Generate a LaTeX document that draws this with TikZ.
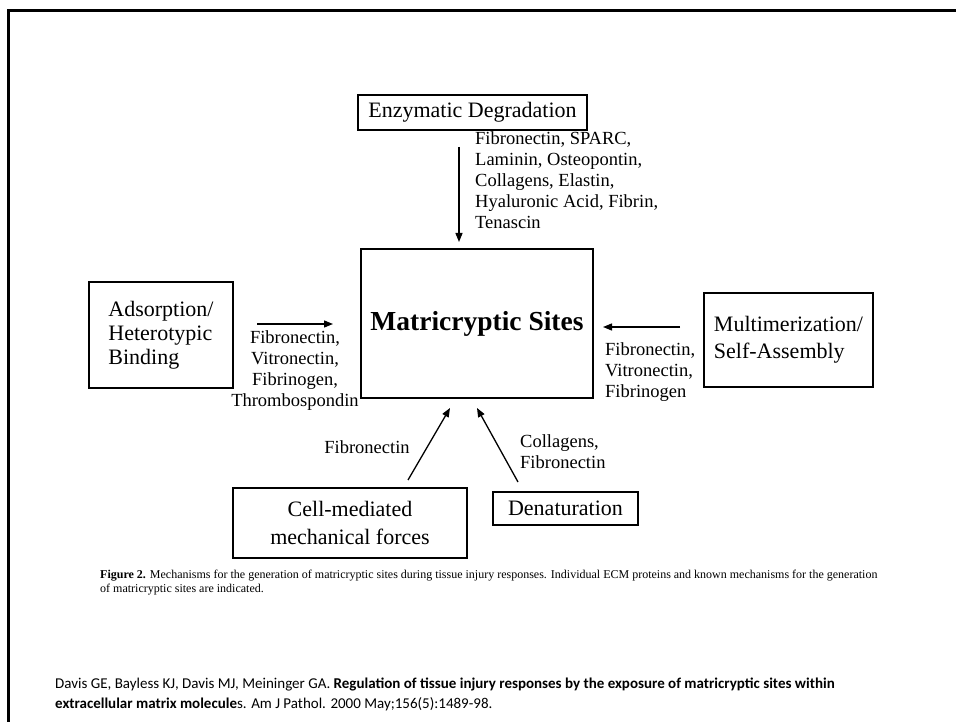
\documentclass[tikz,border=0pt]{standalone}
\usepackage{fontspec}
\setmainfont{Liberation Serif}
\newfontfamily\calibrifont{Carlito}
\usetikzlibrary{arrows.meta}
\begin{document}
\begin{tikzpicture}[x=1pt,y=-1pt,
  boxst/.style={draw,line width=1.4pt,inner sep=0pt,font=\fontsize{22}{25}\selectfont},
  arr/.style={line width=1.3pt,-{Triangle[length=9pt,width=7pt]}},
  lbl/.style={inner sep=0pt,font=\fontsize{18.5}{21}\selectfont}]
\useasboundingbox (0,0) rectangle (956,722);
% slide frame
\draw[line width=3pt] (8.5,730) -- (8.5,10.5) -- (960,10.5);
% boxes
\node[boxst,minimum width=229pt,minimum height=35pt] (enz) at (472.5,112.5) {Enzymatic Degradation};
\node[boxst,minimum width=232pt,minimum height=149pt,font=\fontsize{27.5}{30}\selectfont\bfseries] (main) at (477,323.5) {Matricryptic Sites};
\node[boxst,minimum width=144pt,minimum height=106pt,align=left,font=\fontsize{22}{24}\selectfont] (ads) at (161,335) {Adsorption/\\Heterotypic\\Binding};
\node[boxst,minimum width=169pt,minimum height=94pt,align=left,font=\fontsize{22}{27}\selectfont] (mult) at (788.5,340) {Multimerization/\\Self-Assembly};
\node[boxst,minimum width=234pt,minimum height=70pt,align=center,font=\fontsize{22}{28}\selectfont] (cell) at (350,523) {Cell-mediated\\mechanical forces};
\node[boxst,minimum width=145pt,minimum height=33pt] (den) at (565.5,508.5) {Denaturation};
% arrow end points
\coordinate (e1) at (459,147);  \coordinate (e2) at (459,242);
\coordinate (a1) at (257,324);  \coordinate (a2) at (333,324);
\coordinate (m1) at (680,327);  \coordinate (m2) at (603,327);
\coordinate (c1) at (408,480);  \coordinate (c2) at (450,408);
\coordinate (d1) at (518,482);  \coordinate (d2) at (477,408);
\draw[arr] (e1) -- (e2);
\draw[arr] (a1) -- (a2);
\draw[arr] (m1) -- (m2);
\draw[arr] (c1) -- (c2);
\draw[arr] (d1) -- (d2);
% labels
\node[lbl,anchor=west,align=left] (enzl) at (475,180) {Fibronectin, SPARC,\\Laminin, Osteopontin,\\Collagens, Elastin,\\Hyaluronic Acid, Fibrin,\\Tenascin};
\node[lbl,align=center] (adsl) at (295,371) {Fibronectin,\\Vitronectin,\\Fibrinogen,\\Thrombospondin};
\node[lbl,anchor=west,align=left] (multl) at (605,372) {Fibronectin,\\Vitronectin,\\Fibrinogen};
\node[lbl] (celll) at (367,447) {Fibronectin};
\node[lbl,anchor=west,align=left] (denl) at (520,452) {Collagens,\\Fibronectin};
% caption
\node[inner sep=0pt,anchor=west,align=left,font=\fontsize{12}{14}\selectfont] (cap) at (100,583)
  {\textbf{Figure 2.} Mechanisms for the generation of matricryptic sites during tissue injury responses. Individual ECM proteins and known mechanisms for the generation\\of matricryptic sites are indicated.};
% citation
\node[inner sep=0pt,anchor=west,align=left,font=\calibrifont\fontsize{15}{20}\selectfont] (cite) at (55,694)
  {Davis GE, Bayless KJ, Davis MJ, Meininger GA. \textbf{Regulation of tissue injury responses by the exposure of matricryptic sites within}\\\textbf{extracellular matrix molecule}s. Am J Pathol. 2000 May;156(5):1489-98.};
\end{tikzpicture}
\end{document}
